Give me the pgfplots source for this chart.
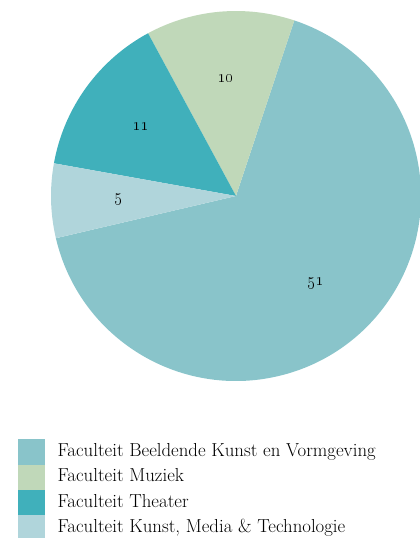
\documentclass[border=0pt]{standalone}
\usepackage{pgfplots}
\pgfplotsset{compat=1.18}
\usepackage{pgfplotstable}

\definecolor{fbkv}{HTML}{89C4CA}
\definecolor{fmuz}{HTML}{C0D8B9}
\definecolor{fthe}{HTML}{40B0BB}
\definecolor{fkmt}{HTML}{B0D5DB}

% students per faculty, legend order
\pgfplotstableread{
value
51
10
11
5
}\faculties

\begin{document}
\begin{tikzpicture}
\pgfplotstablegetelem{0}{value}\of\faculties \let\vA\pgfplotsretval
\pgfplotstablegetelem{1}{value}\of\faculties \let\vB\pgfplotsretval
\pgfplotstablegetelem{2}{value}\of\faculties \let\vC\pgfplotsretval
\pgfplotstablegetelem{3}{value}\of\faculties \let\vD\pgfplotsretval
\pgfmathsetmacro\tot{\vA+\vB+\vC+\vD}
\pgfmathsetmacro\sA{193.2}
\pgfmathsetmacro\eA{\sA+\vA/\tot*360}
\pgfmathsetmacro\eB{\eA+\vB/\tot*360}
\pgfmathsetmacro\eC{\eB+\vC/\tot*360}
\pgfmathsetmacro\eD{\eC+\vD/\tot*360}
\pgfmathsetmacro\mA{(\sA+\eA)/2}
\pgfmathsetmacro\mB{(\eA+\eB)/2}
\pgfmathsetmacro\mC{(\eB+\eC)/2}
\pgfmathsetmacro\mD{(\eC+\eD)/2}
\begin{axis}[
  at={(236bp,342bp)}, anchor=center,
  width=370bp, height=370bp, scale only axis, hide axis,
  xmin=-1, xmax=1, ymin=-1, ymax=1,
  legend image code/.code={\fill[#1] (0bp,-12.5bp) rectangle (26bp,12.5bp);},
  legend style={draw=none, fill=none, inner sep=0pt, row sep=0pt,
    column sep=13bp, at={(-0.0892,-0.1568)}, anchor=north west,
    nodes={inner sep=0pt, text height=13bp, text depth=4bp,
      font=\fontsize{18.8bp}{22bp}\selectfont}},
  legend cell align=left,
]
\fill[fbkv] (axis cs:0,0) -- ++(\sA:185bp) arc[start angle=\sA, end angle=\eA, radius=185bp] -- cycle;
\fill[fmuz] (axis cs:0,0) -- ++(\eA:185bp) arc[start angle=\eA, end angle=\eB, radius=185bp] -- cycle;
\fill[fthe] (axis cs:0,0) -- ++(\eB:185bp) arc[start angle=\eB, end angle=\eC, radius=185bp] -- cycle;
\fill[fkmt] (axis cs:0,0) -- ++(\eC:185bp) arc[start angle=\eC, end angle=\eD, radius=185bp] -- cycle;
\path (axis cs:0,0) ++(\mA:118bp) node[font=\fontsize{17.5bp}{20bp}\selectfont] {\oldstylenums{51}};
\path (axis cs:0,0) ++(\mB:118bp) node[font=\fontsize{17.5bp}{20bp}\selectfont] {\oldstylenums{10}};
\path (axis cs:0,0) ++(\mC:118bp) node[font=\fontsize{17.5bp}{20bp}\selectfont] {\oldstylenums{11}};
\path (axis cs:0,0) ++(\mD:118bp) node[font=\fontsize{17.5bp}{20bp}\selectfont] {\oldstylenums{5}};
\addlegendimage{fbkv}
\addlegendentry{Faculteit Beeldende Kunst en Vormgeving}
\addlegendimage{fmuz}
\addlegendentry{Faculteit Muziek}
\addlegendimage{fthe}
\addlegendentry{Faculteit Theater}
\addlegendimage{fkmt}
\addlegendentry{Faculteit Kunst, Media \& Technologie}
\end{axis}
\pgfresetboundingbox
\useasboundingbox (0bp,0bp) rectangle (420bp,538bp);
\end{tikzpicture}
\end{document}
